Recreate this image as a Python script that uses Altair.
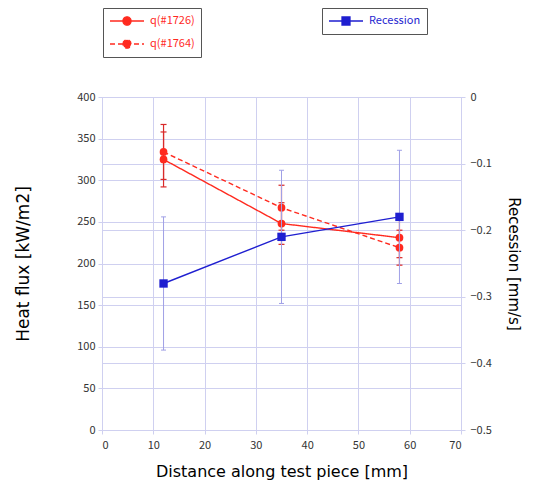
import altair as alt
import pandas as pd

x_mm = [12, 35, 58]
q1726 = [325, 248, 231]
q1726_err = [33, 25, 24]
q1764 = [334, 267, 219]
q1764_err = [33, 27, 21]
recession = [-0.28, -0.21, -0.18]
recession_err = [0.10, 0.10, 0.10]
series_names = ["q(#1726)", "q(#1764)"]
rec_name = "Recession"

rows = []
for name, vals, errs in [(series_names[0], q1726, q1726_err), (series_names[1], q1764, q1764_err)]:
    for xv, v, e in zip(x_mm, vals, errs):
        rows.append({"series": name, "x": xv, "q": v, "lo": v - e, "hi": v + e})
red_df = pd.DataFrame(rows)
blue_df = pd.DataFrame({
    "series": [rec_name] * len(x_mm),
    "x": x_mm,
    "r": recession,
    "lo": [v - e for v, e in zip(recession, recession_err)],
    "hi": [v + e for v, e in zip(recession, recession_err)],
})

FONT = "Noto Sans CJK JP"
TFONT = "DejaVu Sans"
RED = "#ff2a1f"
RED_ERR = "#d92a2a"
BLUE = "#1f1fd0"
BLUE_ERR = "#a0a0e6"
GRID = "#cfd0f0"
LABEL = "#333333"

x_axis = alt.Axis(values=list(range(0, 71, 10)), title="Distance along test piece [mm]",
                  grid=True, gridColor=GRID, domainColor=GRID, tickColor=GRID, tickSize=4,
                  labelFontSize=11, labelColor=LABEL, labelFont=FONT, labelPadding=5,
                  titleFont=TFONT, titleFontSize=16, titleFontWeight="normal", titleColor="black",
                  titlePadding=13)
x_enc = alt.X("x:Q", scale=alt.Scale(domain=[0, 70]), axis=x_axis)

left_axis = alt.Axis(orient="left", values=list(range(0, 401, 50)), title="Heat flux [kW/m2]",
                     grid=True, gridColor=GRID, domainColor=GRID, tickColor=GRID, tickSize=4,
                     labelFontSize=11, labelColor=LABEL, labelFont=FONT, labelPadding=3,
                     titleFont=TFONT, titleFontSize=17, titleFontWeight="normal", titleColor="black",
                     titlePadding=44)
left_scale = alt.Scale(domain=[0, 400])

right_axis = alt.Axis(orient="right", values=[0, -0.1, -0.2, -0.3, -0.4, -0.5], title="Recession [mm/s]",
                      grid=True, gridColor=GRID, domainColor=GRID, tickColor=GRID, tickSize=4,
                      labelExpr="datum.value == 0 ? '0' : format(datum.value, '.1f')",
                      labelFontSize=11, labelColor=LABEL, labelFont=FONT, labelPadding=5,
                      titleFont=TFONT, titleFontSize=15, titleFontWeight="normal", titleColor="black",
                      titlePadding=14)
right_scale = alt.Scale(domain=[-0.5, 0])

red_path = "M-1,0L4.667,0M1.167,0A0.667,0.667,0,1,1,2.5,0A0.667,0.667,0,1,1,1.167,0Z"
blue_path = "M-1,0L4.667,0M1.167,-0.667L2.5,-0.667L2.5,0.667L1.167,0.667Z"

red_base = alt.Chart(red_df)
red_rules = red_base.mark_rule(color=RED_ERR, strokeWidth=1.2, opacity=1).encode(
    x=x_enc, y=alt.Y("lo:Q", scale=left_scale, axis=left_axis), y2="hi:Q")
red_lo = red_base.mark_tick(color=RED_ERR, orient="horizontal", size=6, thickness=1.2, opacity=1).encode(
    x=x_enc, y=alt.Y("lo:Q", scale=left_scale, axis=left_axis))
red_hi = red_base.mark_tick(color=RED_ERR, orient="horizontal", size=6, thickness=1.2, opacity=1).encode(
    x=x_enc, y=alt.Y("hi:Q", scale=left_scale, axis=left_axis))
red_line = red_base.mark_line(color=RED, strokeWidth=1.4).encode(
    x=x_enc, y=alt.Y("q:Q", scale=left_scale, axis=left_axis),
    strokeDash=alt.StrokeDash("series:N",
        scale=alt.Scale(domain=series_names, range=[[1, 0], [5, 3]]),
        legend=alt.Legend(orient="none", legendX=1, legendY=-89, title=None,
                          strokeColor="#555555", fillColor="white", padding=6, rowPadding=9,
                          symbolType=red_path, symbolSize=144, symbolStrokeColor=RED,
                          symbolFillColor=RED, symbolStrokeWidth=1.3, labelOffset=27,
                          labelColor=RED, labelFontSize=11, labelFont=FONT)))
red_pts = red_base.mark_point(color=RED, filled=True, shape="circle", size=60, opacity=1).encode(
    x=x_enc, y=alt.Y("q:Q", scale=left_scale, axis=left_axis))
red_layer = alt.layer(red_rules, red_lo, red_hi, red_line, red_pts)

blue_base = alt.Chart(blue_df)
blue_rules = blue_base.mark_rule(color=BLUE_ERR, strokeWidth=1, opacity=1).encode(
    x=x_enc, y=alt.Y("lo:Q", scale=right_scale, axis=right_axis), y2="hi:Q")
blue_lo = blue_base.mark_tick(color=BLUE_ERR, orient="horizontal", size=5, thickness=1, opacity=1).encode(
    x=x_enc, y=alt.Y("lo:Q", scale=right_scale, axis=right_axis))
blue_hi = blue_base.mark_tick(color=BLUE_ERR, orient="horizontal", size=5, thickness=1, opacity=1).encode(
    x=x_enc, y=alt.Y("hi:Q", scale=right_scale, axis=right_axis))
blue_line = blue_base.mark_line(strokeWidth=1.4).encode(
    x=x_enc, y=alt.Y("r:Q", scale=right_scale, axis=right_axis),
    color=alt.Color("series:N", scale=alt.Scale(domain=[rec_name], range=[BLUE]),
        legend=alt.Legend(orient="none", legendX=220, legendY=-89, title=None,
                          strokeColor="#555555", fillColor="white", padding=6,
                          symbolType=blue_path, symbolSize=144, symbolStrokeColor=BLUE,
                          symbolFillColor=BLUE, symbolStrokeWidth=1.3, labelOffset=27,
                          labelColor=BLUE, labelFontSize=11, labelFont=FONT)))
blue_pts = blue_base.mark_point(color=BLUE, filled=True, shape="square", size=70, opacity=1).encode(
    x=x_enc, y=alt.Y("r:Q", scale=right_scale, axis=right_axis))
blue_layer = alt.layer(blue_rules, blue_lo, blue_hi, blue_line, blue_pts)

chart = alt.layer(red_layer, blue_layer).resolve_scale(
    y="independent", color="independent", strokeDash="independent"
).properties(
    width=359, height=333,
    autosize=alt.AutoSizeParams(type="none"),
    padding={"left": 94, "top": 89, "right": 66, "bottom": 50},
    background="white",
).configure_view(stroke=GRID)

chart.save("out.html", embed_options={"renderer": "svg", "actions": False})
